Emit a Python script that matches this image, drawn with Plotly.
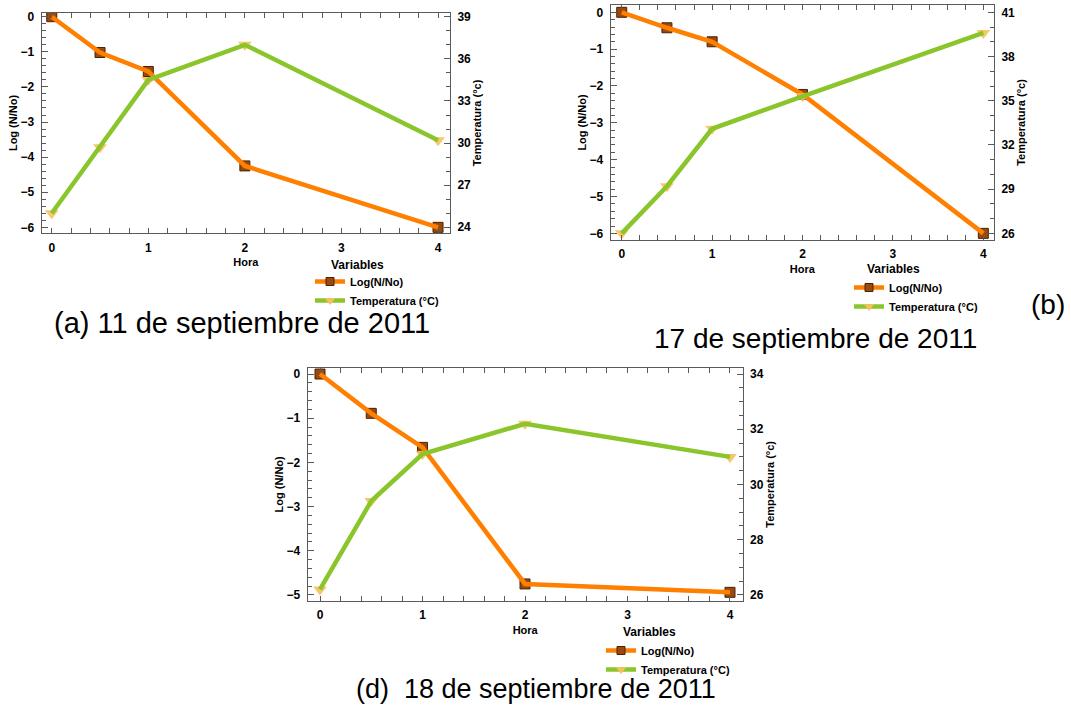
import plotly.graph_objects as go

# Sampling times (hours)
hora = [0, 0.5, 1, 2, 4]

# 11 de septiembre de 2011
log_a = [0.0, -1.02, -1.56, -4.25, -6.0]
temp_a = [25.0, 29.7, 34.5, 37.0, 30.2]

# 17 de septiembre de 2011
log_b = [0.0, -0.42, -0.80, -2.23, -6.0]
temp_b = [26.0, 29.2, 33.1, 35.3, 39.6]

# 18 de septiembre de 2011
log_d = [0.0, -0.89, -1.66, -4.75, -4.94]
temp_d = [26.2, 29.4, 31.1, 32.2, 31.0]

ORANGE = "#ff8000"
GREEN = "#8ac52c"
SQ_FILL = "#9a4a0c"
SQ_EDGE = "#4a2205"
TRI_FILL = "#f6c15a"
FRAME = "#5a5a5a"
FONT = "Liberation Sans"

W, H = 1071, 707

fig = go.Figure()

panels = [
    # (x axis id, left y id, right y id, legend id, log, temp)
    ("x", "y", "y2", "legend", log_a, temp_a),
    ("x2", "y3", "y4", "legend2", log_b, temp_b),
    ("x3", "y5", "y6", "legend3", log_d, temp_d),
]

for xa, yl, yr, lg, logv, tempv in panels:
    # markers under the lines
    fig.add_trace(go.Scatter(x=hora, y=logv, xaxis=xa, yaxis=yl, mode="markers",
                             marker=dict(symbol="square", size=10, color=SQ_FILL,
                                         line=dict(color=SQ_EDGE, width=1)),
                             showlegend=False, hoverinfo="skip"))
    fig.add_trace(go.Scatter(x=hora, y=tempv, xaxis=xa, yaxis=yr, mode="markers",
                             marker=dict(symbol="triangle-down", size=12, color=TRI_FILL,
                                         opacity=0.9, line=dict(width=0)),
                             showlegend=False, hoverinfo="skip"))
    fig.add_trace(go.Scatter(x=hora, y=logv, xaxis=xa, yaxis=yl, mode="lines",
                             line=dict(color=ORANGE, width=4.5), showlegend=False))
    fig.add_trace(go.Scatter(x=hora, y=tempv, xaxis=xa, yaxis=yr, mode="lines",
                             line=dict(color=GREEN, width=4.5), showlegend=False))
    # legend entries (line + marker)
    fig.add_trace(go.Scatter(x=[None], y=[None], xaxis=xa, yaxis=yl, mode="lines+markers",
                             name="Log(N/No)", legend=lg,
                             line=dict(color=ORANGE, width=4.5),
                             marker=dict(symbol="square", size=8, color=SQ_FILL,
                                         line=dict(color=SQ_EDGE, width=1))))
    fig.add_trace(go.Scatter(x=[None], y=[None], xaxis=xa, yaxis=yr, mode="lines+markers",
                             name="Temperatura (°C)", legend=lg,
                             line=dict(color=GREEN, width=4.5),
                             marker=dict(symbol="triangle-down", size=9, color=TRI_FILL)))

tick_font = dict(family=FONT, size=12, color="black", weight="bold")
title_font = dict(family=FONT, size=11, color="black", weight="bold")


def xaxis(domain, rng, anchor):
    return dict(domain=domain, range=rng, anchor=anchor, automargin=False,
                showline=True, linecolor=FRAME, linewidth=1, mirror="allticks",
                ticks="inside", ticklen=5, tickcolor=FRAME, tick0=0, dtick=1,
                minor=dict(ticks="inside", ticklen=3, dtick=0.2, tickcolor=FRAME),
                showgrid=False, zeroline=False, tickfont=tick_font,
                ticklabelstandoff=3,
                title=dict(text="Hora", font=title_font, standoff=4))


def yleft(domain, rng, anchor):
    return dict(domain=domain, range=rng, anchor=anchor, automargin=False,
                showline=True, linecolor=FRAME, linewidth=1, mirror=True,
                ticks="inside", ticklen=6, tickcolor=FRAME, tick0=0, dtick=1,
                minor=dict(ticks="inside", ticklen=4, dtick=0.2, tickcolor=FRAME),
                showgrid=False, zeroline=False, tickfont=tick_font,
                ticklabelstandoff=4,
                title=dict(text="Log (N/No)", font=title_font, standoff=0))


def yright(rng, anchor, overlay, t0, dt, mdt):
    return dict(range=rng, anchor=anchor, overlaying=overlay, side="right",
                automargin=False, showline=True, linecolor=FRAME, linewidth=1,
                ticks="inside", ticklen=6, tickcolor=FRAME, tick0=t0, dtick=dt,
                minor=dict(ticks="inside", ticklen=4, dtick=mdt, tickcolor=FRAME),
                showgrid=False, zeroline=False, tickfont=tick_font,
                ticklabelstandoff=4,
                title=dict(text="Temperatura (°c)", font=title_font, standoff=2))


def px(v):
    return v / W


def py(v):
    return 1 - v / H


fig.update_layout(
    width=W, height=H, margin=dict(l=0, r=0, t=0, b=0),
    paper_bgcolor="white", plot_bgcolor="white",
    xaxis=xaxis([px(41.7), px(450)], [-0.104, 4.124], "y"),
    yaxis=yleft([py(233.3), py(12.7)], [-6.17, 0.114], "x"),
    yaxis2=yright([23.57, 39.29], "x", "y", 24, 3, 1),
    xaxis2=xaxis([px(610.7), px(994)], [-0.122, 4.118], "y3"),
    yaxis3=yleft([py(240), py(5)], [-6.18, 0.198], "x2"),
    yaxis4=yright([25.55, 41.5], "x2", "y3", 26, 3, 1),
    xaxis3=xaxis([px(307.7), px(742.7)], [-0.12, 4.124], "y5"),
    yaxis5=yleft([py(601), py(367.7)], [-5.136, 0.143], "x3"),
    yaxis6=yright([25.78, 34.23], "x3", "y5", 26, 2, 0.5),
)

legend_style = dict(bgcolor="rgba(0,0,0,0)", borderwidth=0,
                    font=dict(family=FONT, size=11, color="black", weight="bold"),
                    tracegroupgap=0, itemwidth=30, xanchor="left", yanchor="top")

fig.update_layout(
    legend=dict(legend_style, x=px(310), y=py(267)),
    legend2=dict(legend_style, x=px(849), y=py(273)),
    legend3=dict(legend_style, x=px(601), y=py(636)),
)

# "Variables" heading above each legend
heading_font = dict(family=FONT, size=12, color="black", weight="bold")
for x0, yc in [(357, 265), (893, 269), (649, 632)]:
    fig.add_annotation(text="Variables", x=px(x0), y=py(yc), xref="paper", yref="paper",
                       xanchor="center", yanchor="middle", showarrow=False,
                       font=heading_font)

captions = [
    ("(a) 11 de septiembre de 2011", 53, 323, 29),
    ("17 de septiembre de 2011", 653, 338, 28),
    ("(b)", 1030, 304, 28),
    ("(d)  18 de septiembre de 2011", 355, 689, 27),
]
for text, x0, yc, size in captions:
    fig.add_annotation(text=text, x=px(x0), y=py(yc), xref="paper", yref="paper",
                       xanchor="left", yanchor="middle", showarrow=False, borderpad=0,
                       font=dict(family=FONT, size=size, color="black"))

fig.write_html("out.html")
